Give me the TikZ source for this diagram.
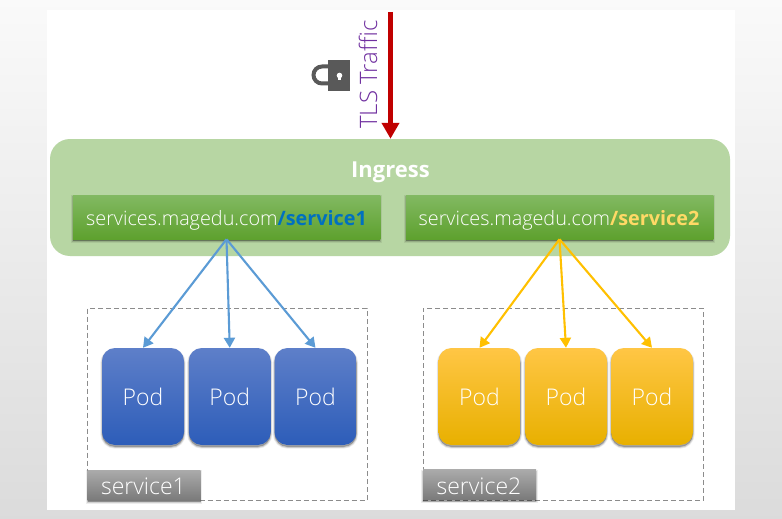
\documentclass[tikz,border=0pt]{standalone}
\usepackage{fontspec}
\setmainfont{Open Sans}
\newfontfamily\lightfont{Open Sans Light}
\usetikzlibrary{arrows.meta,shadows}
\definecolor{ingressfill}{HTML}{B7D6A3}
\definecolor{greentop}{HTML}{82B962}
\definecolor{greenbot}{HTML}{5EA12E}
\definecolor{bluetop}{HTML}{5E7FC9}
\definecolor{bluemid}{HTML}{3B69C3}
\definecolor{bluebot}{HTML}{2D5DB9}
\definecolor{yeltop}{HTML}{FFC645}
\definecolor{yelmid}{HTML}{FFC000}
\definecolor{yelbot}{HTML}{E8B000}
\definecolor{bluearrow}{HTML}{5B9BD5}
\definecolor{redarrow}{HTML}{C00000}
\definecolor{tlspurple}{HTML}{7030A0}
\definecolor{locktone}{HTML}{595959}
\definecolor{pathblue}{HTML}{0070C0}
\definecolor{pathyellow}{HTML}{FFD966}
\tikzset{
  softshadow/.style={
    general shadow={shadow xshift=0pt,shadow yshift=-2pt,fill=black,draw=black,line width=3.4pt,opacity=.07},
    general shadow={shadow xshift=0pt,shadow yshift=-2pt,fill=black,draw=black,line width=1.8pt,opacity=.12},
    general shadow={shadow xshift=0pt,shadow yshift=-1.5pt,fill=black,opacity=.16}},
  routebox/.style={minimum width=307.5pt,minimum height=44pt,inner sep=0pt,top color=greentop,bottom color=greenbot,softshadow},
  routetext/.style={text=white,font=\lightfont\fontsize{19.8}{22}\selectfont},
  podbase/.style={minimum width=82pt,minimum height=97pt,inner sep=0pt,rounded corners=13pt,softshadow,text=white,font=\lightfont\fontsize{23}{26}\selectfont},
  bluepod/.style={podbase,top color=bluetop,middle color=bluemid,bottom color=bluebot},
  yellowpod/.style={podbase,top color=yeltop,middle color=yelmid,bottom color=yelbot},
  groupbox/.style={draw=black!45,dash pattern=on 5pt off 3pt,line width=.8pt,inner sep=0pt},
  taglabel/.style={minimum width=113pt,minimum height=30pt,inner sep=0pt,top color=black!33,bottom color=black!52,softshadow},
  tagtext/.style={text=white,font=\lightfont\fontsize{23}{26}\selectfont},
  bluelink/.style={draw=bluearrow,line width=2.1pt,-{Triangle[length=10pt,width=11pt]}},
  yellowlink/.style={draw=yelmid,line width=2.1pt,-{Triangle[length=10pt,width=11pt]}},
}
\begin{document}
\begin{tikzpicture}[x=1pt,y=-1pt]
\useasboundingbox (0,0) rectangle (782,519);
\shade[top color=black!2,bottom color=black!14] (0,0) rectangle (782,519);
\fill[white] (47,10) rectangle (735,510);
% ingress
\node[fill=ingressfill,rounded corners=20pt,minimum width=680pt,minimum height=117pt,inner sep=0pt] (ingress) at (390,197.5) {};
\node[text=white,font=\bfseries\fontsize{22}{26}\selectfont] (ingresslabel) at (390.5,172.5) {Ingress};
\node[routebox] (route1) at (226.5,217) {};
\node[routebox] (route2) at (559.5,217) {};
\node[routetext] (route1text) at (226.5,220.5) {services.magedu.com{\normalfont\fontsize{19.8}{22}\selectfont\bfseries\textcolor{pathblue}{/service1}}};
\node[routetext] (route2text) at (559,220.5) {services.magedu.com{\normalfont\fontsize{19.8}{22}\selectfont\bfseries\textcolor{pathyellow}{/service2}}};
% groups
\node[groupbox,minimum width=279.5pt,minimum height=192.5pt] (group1) at (227.25,404.25) {};
\node[groupbox,minimum width=280.5pt,minimum height=192pt] (group2) at (563.25,404) {};
% pods
\node[bluepod] (p11) at (143,396.5) {Pod};
\node[bluepod] (p12) at (229.75,396.5) {Pod};
\node[bluepod] (p13) at (315.5,396.5) {Pod};
\node[yellowpod] (p21) at (479.5,396.5) {Pod};
\node[yellowpod] (p22) at (566,396.5) {Pod};
\node[yellowpod] (p23) at (652,396.5) {Pod};
% tags
\node[taglabel] (tag1) at (144,485) {};
\node[taglabel] (tag2) at (479.5,484.5) {};
\node[tagtext] (tag1text) at (143.5,486) {service1};
\node[tagtext] (tag2text) at (479,486) {service2};
% connectors
\draw[bluelink] (route1.south) -- (p11.north);
\draw[bluelink] (route1.south) -- (p12.north);
\draw[bluelink] (route1.south) -- (p13.north);
\draw[yellowlink] (route2.south) -- (p21.north);
\draw[yellowlink] (route2.south) -- (p22.north);
\draw[yellowlink] (route2.south) -- (p23.north);
% TLS arrow
\coordinate (tlsstart) at (390.5,12);
\draw[redarrow,line width=5pt,-{Triangle[length=16pt,width=17pt]}] (tlsstart) -- (ingress.north -| tlsstart);
\node[rotate=90,text=tlspurple,font=\lightfont\fontsize{24}{28}\selectfont] (tls) at (368,74.5) {TLS Traffic};
% lock
\fill[locktone] (328,60) rectangle (349.5,91);
\draw[locktone,line width=4pt] (328,66.5) -- (322,66.5) arc[start angle=90,end angle=270,radius=8.5pt] -- (328,83.5);
\fill[white] (339.5,75.5) circle[radius=2.8pt];
\fill[white] (338.4,76) rectangle (340.6,80.5);
\end{tikzpicture}
\end{document}
